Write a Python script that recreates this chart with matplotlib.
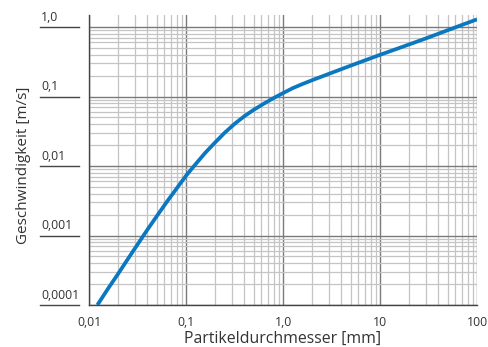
import matplotlib.pyplot as plt
from matplotlib.ticker import LogLocator, NullFormatter, FixedLocator
import matplotlib.transforms as mtransforms

plt.rcParams['font.family'] = ['Open Sans', 'DejaVu Sans']

# Partikeldurchmesser [mm] und Sinkgeschwindigkeit [m/s]
durchmesser = [0.0122, 0.0158, 0.020, 0.0251, 0.0316, 0.0398, 0.0501, 0.0631, 0.0794,
               0.1, 0.126, 0.158, 0.2, 0.251, 0.316, 0.398, 0.501, 0.631, 0.794,
               1.0, 1.26, 1.58, 2.0, 3.16, 5.01, 10, 20, 31.6, 50.1, 100]
geschw = [1.0e-4, 1.74e-4, 2.82e-4, 4.57e-4, 7.41e-4, 1.20e-3, 1.91e-3, 3.02e-3, 4.68e-3,
          7.24e-3, 0.0107, 0.0155, 0.0219, 0.0302, 0.0403, 0.0519, 0.0646, 0.0785, 0.0944,
          0.112, 0.132, 0.151, 0.172, 0.219, 0.279, 0.398, 0.562, 0.708, 0.902, 1.29]

x_ticks = [0.01, 0.1, 1, 10, 100]
x_labels = ['0,01', '0,1', '1,0', '10', '100']
y_ticks = [0.0001, 0.001, 0.01, 0.1, 1]
y_labels = ['0,0001', '0,001', '0,01', '0,1', '1,0']

fig = plt.figure(figsize=(4.89, 3.47), dpi=100)
ax = fig.add_axes([89 / 489, 42 / 347, 388 / 489, 290 / 347])

ax.set_xscale('log')
ax.set_yscale('log')
ax.set_xlim(0.01, 100)
ax.set_ylim(0.0001, 1.49)

ax.xaxis.set_major_locator(FixedLocator(x_ticks))
ax.xaxis.set_minor_locator(LogLocator(base=10, subs=range(2, 10)))
ax.yaxis.set_major_locator(FixedLocator(y_ticks))
ax.yaxis.set_minor_locator(LogLocator(base=10, subs=range(2, 10)))
ax.xaxis.set_minor_formatter(NullFormatter())
ax.yaxis.set_minor_formatter(NullFormatter())
ax.set_xticklabels(x_labels, fontsize=8.8, color='#333333')
ax.set_yticklabels([])

ax.grid(which='major', color='#7a7a7a', linewidth=1.0)
ax.grid(which='minor', color='#c4c4c4', linewidth=0.9)
ax.tick_params(which='both', length=0)
ax.tick_params(axis='x', pad=8)

for s in ['top', 'right']:
    ax.spines[s].set_visible(False)
for s in ['left', 'bottom']:
    ax.spines[s].set_color('#444444')
    ax.spines[s].set_linewidth(1.0)

ax.plot(durchmesser, geschw, color='#0a78c0', linewidth=2.7,
        solid_capstyle='butt', solid_joinstyle='round', zorder=5)

# Y-Beschriftung links ueber kurzen Linien
trans = mtransforms.blended_transform_factory(ax.transAxes, ax.transData)
x0 = (40 - 89) / 388
x1 = (79 - 89) / 388
for yv, lab in zip(y_ticks, y_labels):
    ax.plot([x0, x1], [yv, yv], transform=trans, color='#444444', linewidth=1.0, clip_on=False)
    ax.text(x0 + 0.003, yv * 1.12, lab, transform=trans, fontsize=8.8, color='#333333',
            ha='left', va='bottom')

ax.set_xlabel('Partikeldurchmesser [mm]', fontsize=11.4, color='#333333', labelpad=1)
fig.text(24 / 489, 0.524, 'Geschwindigkeit [m/s]', rotation=90, fontsize=11,
         color='#333333', ha='center', va='center')

fig.savefig('out.png', dpi=100)
